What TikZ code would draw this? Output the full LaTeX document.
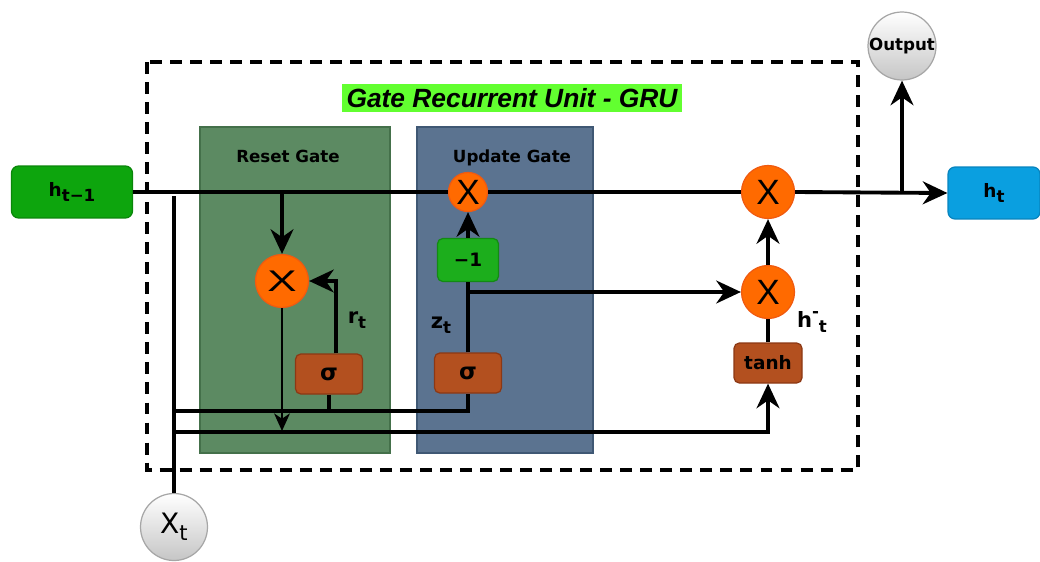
\documentclass[tikz,border=0pt]{standalone}
\usepackage{fontspec}
\setmainfont{DejaVu Sans}
\newfontfamily\arialfont{Liberation Sans}
\usetikzlibrary{arrows.meta}

\definecolor{resetfill}{HTML}{5C8A62}
\definecolor{resetedge}{HTML}{44704A}
\definecolor{updatefill}{HTML}{5B7390}
\definecolor{updateedge}{HTML}{3F5874}
\definecolor{multfill}{HTML}{FF6A00}
\definecolor{multedge}{HTML}{F05A10}
\definecolor{actfill}{HTML}{B3501F}
\definecolor{actedge}{HTML}{8C3814}
\definecolor{negfill}{HTML}{1CAE1C}
\definecolor{negedge}{HTML}{138A13}
\definecolor{prevfill}{HTML}{0DA50D}
\definecolor{prevedge}{HTML}{0A860A}
\definecolor{nextfill}{HTML}{0A9FE0}
\definecolor{nextedge}{HTML}{0884BE}
\definecolor{titlebg}{HTML}{62FF30}

% lowered and raised indices in the label font
\newcommand\lowidx[1]{\raisebox{-0.45ex}{\fontsize{9.5}{9.5}\selectfont #1}}
\newcommand\highidx[1]{\raisebox{0.9ex}{\fontsize{9.5}{9.5}\selectfont #1}}

\tikzset{
  wire/.style={line width=2.2pt},
  thinwire/.style={line width=1.1pt},
  arr/.style={-{Stealth[length=14pt,width=13pt,inset=4.5pt]}},
  smallarr/.style={-{Stealth[length=10pt,width=9pt,inset=3pt]}},
  mult/.style={circle, fill=multfill, draw=multedge, line width=0.7pt,
    inner sep=0pt, minimum size=1.06cm, font=\arialfont\fontsize{20}{20}\selectfont},
  actbox/.style={rectangle, rounded corners=3pt, fill=actfill, draw=actedge,
    line width=0.7pt, minimum width=1.34cm, minimum height=0.8cm,
    font=\bfseries\fontsize{10.5}{11}\selectfont},
  statebox/.style={rectangle, rounded corners=4pt, line width=0.7pt,
    minimum height=1.04cm, font=\bfseries\fontsize{10.5}{11}\selectfont},
  ionode/.style={circle, top color=white, bottom color=gray!45, draw=gray!70,
    line width=0.7pt, inner sep=0pt},
  gatelabel/.style={font=\bfseries\fontsize{9.5}{11}\selectfont},
  idxlabel/.style={font=\bfseries\fontsize{12}{13}\selectfont}
}

\begin{document}
\begin{tikzpicture}[x=0.02cm, y=-0.02cm]
    \useasboundingbox (0,0) rectangle (1040,561);

    % gate areas and the unit border
    \filldraw [fill=resetfill, draw=resetedge, line width=0.6pt] (200,127) rectangle (390,453);
    \filldraw [fill=updatefill, draw=updateedge, line width=0.6pt] (417,127) rectangle (593,453);
    \draw [line width=2pt, dash pattern=on 6.8pt off 4.6pt] (147,62) rectangle (858,470);

    \node [fill=titlebg, inner sep=0pt, minimum width=6.8cm, minimum height=0.56cm,
        font=\arialfont\bfseries\itshape\fontsize{15}{15}\selectfont] (title) at (512,98) {Gate Recurrent Unit - GRU};
    \node [gatelabel] (resetlbl) at (288,156) {Reset Gate};
    \node [gatelabel] (updatelbl) at (512,158) {Update Gate};

    % states, inputs and outputs
    \node [statebox, fill=prevfill, draw=prevedge, minimum width=2.42cm] (hprev) at (72,192) {h\lowidx{t−1}};
    \node [statebox, fill=nextfill, draw=nextedge, minimum width=1.84cm] (hnext) at (994,193) {h\lowidx{t}};
    \node [ionode, minimum size=1.34cm, font=\fontsize{16}{16}\selectfont] (xt) at (174,527) {X\raisebox{-0.45ex}{\fontsize{12}{12}\selectfont t}};
    \node [ionode, minimum size=1.36cm, font=\bfseries\fontsize{9.5}{10}\selectfont] (out) at (902,46) {Output};

    % multiplications
    \node [mult] (mreset) at (282,281) {\scalebox{1.25}[0.85]{X}};
    \node [mult, minimum size=0.78cm] (mupd) at (468,192) {X};
    \node [mult] (mout) at (768,192) {X};
    \node [mult] (mcand) at (768,292) {X};

    % activations
    \node [actbox, font=\bfseries\fontsize{13}{13}\selectfont] (sreset) at (329,374) {σ};
    \node [actbox, font=\bfseries\fontsize{13}{13}\selectfont] (supd) at (468,373) {σ};
    \node [actbox, fill=negfill, draw=negedge, minimum width=1.22cm, minimum height=0.86cm] (neg) at (468,260) {−1};
    \node [actbox, minimum width=1.36cm] (tanh) at (768,363) {tanh};

    \node [idxlabel] (rlbl) at (357,320) {r\lowidx{t}};
    \node [idxlabel] (zlbl) at (441,325) {z\lowidx{t}};
    \node [idxlabel] (hlbl) at (812,322) {h\highidx{-}\lowidx{t}};

    % branch points
    \coordinate (rtap) at (282,192);
    \coordinate (otap) at (902,192);
    \coordinate (xtop) at (174,196);
    \coordinate (ztap) at (468,292);
    \coordinate (bus1) at (174,411);
    \coordinate (bus2) at (174,432);
    \coordinate (rdrop) at (282,431);

    % hidden state path
    \draw [wire] (hprev.east) -- (mupd.west);
    \draw [wire] (mupd.east) -- (mout.west);
    \draw [wire, arr] (mout.east) -- (hnext.west);
    \draw [wire, arr] (otap) -- (out.south);

    % reset gate
    \draw [wire, arr] (rtap) -- (mreset.north);
    \draw [wire, arr] ([xshift=0.14cm]sreset.north) |- (mreset.east);
    \draw [thinwire, smallarr] (mreset.south) -- (rdrop);

    % update gate
    \draw [wire] (supd.north) -- (neg.south);
    \draw [wire, arr] (neg.north) -- (mupd.south);
    \draw [wire, arr] (ztap) -- (mcand.west);
    \draw [wire] (tanh.north) -- (mcand.south);
    \draw [wire, arr] (mcand.north) -- (mout.south);

    % input x_t
    \draw [wire] (xt.north) -- (xtop);
    \draw [wire] (bus1) -| (supd.south);
    \draw [wire] (sreset.south) -- (sreset.south |- bus1);
    \draw [wire, arr] (bus2) -| (tanh.south);
\end{tikzpicture}
\end{document}
